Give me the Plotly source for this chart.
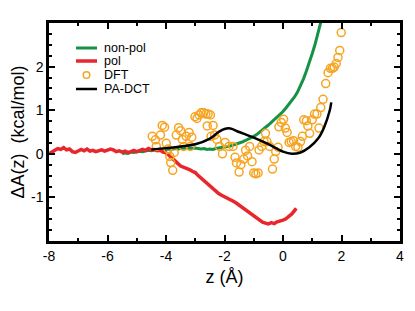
import plotly.graph_objects as go

# ---- data ----
pol_z = [round(-8.0 + 0.1 * i, 2) for i in range(85)] + [0.45]
pol_A = [0.00, 0.03, 0.08, 0.12, 0.10, 0.14, 0.09, 0.11, 0.05, 0.03,
         0.06, 0.10, 0.07, 0.11, 0.06, 0.08, 0.05, 0.07, 0.09, 0.06,
         0.08, 0.11, 0.09, 0.05, 0.07, 0.04, 0.06, 0.03, 0.05, 0.08,
         0.05, 0.07, 0.10, 0.08, 0.12, 0.09, 0.10, 0.07, 0.08, 0.04,
         0.02, -0.03, -0.10, -0.17, -0.22, -0.28, -0.30, -0.34, -0.36, -0.40,
         -0.43, -0.50, -0.56, -0.62, -0.69, -0.75, -0.81, -0.86, -0.91, -0.95,
         -0.98, -1.03, -1.06, -1.09, -1.13, -1.18, -1.23, -1.28, -1.33, -1.38,
         -1.43, -1.49, -1.54, -1.57, -1.59, -1.61, -1.58, -1.60, -1.56, -1.55,
         -1.52, -1.49, -1.44, -1.38, -1.30, -1.25]

nonpol_z = [round(-5.5 + 0.1 * i, 2) for i in range(70)]
nonpol_A = [0.00, 0.02, 0.01, 0.04, 0.03, 0.05, 0.06, 0.05, 0.07, 0.08,
            0.07, 0.09, 0.08, 0.10, 0.09, 0.10, 0.11, 0.10, 0.12, 0.11,
            0.12, 0.13, 0.12, 0.13, 0.12, 0.13, 0.12, 0.11, 0.12, 0.10,
            0.11, 0.10, 0.12, 0.13, 0.14, 0.15, 0.17, 0.18, 0.20, 0.22,
            0.24, 0.27, 0.30, 0.33, 0.36, 0.40, 0.44, 0.49, 0.54, 0.60,
            0.66, 0.72, 0.78, 0.84, 0.90, 0.97, 1.05, 1.13, 1.21, 1.31,
            1.42, 1.56, 1.72, 1.90, 2.08, 2.30, 2.52, 2.80, 3.05, 3.30]

dct_z = [-4.5, -4.0, -3.5, -3.0, -2.5, -2.2, -2.0, -1.8, -1.5, -1.0,
         -0.5, 0.0, 0.3, 0.6, 0.9, 1.2, 1.4, 1.6, 1.65]
dct_A = [0.10, 0.13, 0.17, 0.22, 0.35, 0.50, 0.57, 0.58, 0.50, 0.37,
         0.22, 0.05, 0.00, 0.03, 0.15, 0.35, 0.60, 1.00, 1.18]

dft_z = [-4.47, -4.36, -4.33, -4.19, -4.13, -4.05, -3.99, -3.93, -3.87, -3.84,
         -3.77, -3.72, -3.65, -3.57, -3.50, -3.44, -3.40, -3.31, -3.21, -3.17,
         -3.12, -3.01, -2.94, -2.87, -2.80, -2.71, -2.64, -2.56, -2.48, -2.59,
         -2.39, -2.46, -2.34, -2.26, -2.17, -2.07, -1.98, -1.85, -1.71, -1.64,
         -1.59, -1.50, -1.44, -1.34, -1.28, -1.21, -1.14, -1.06, -1.00, -0.93,
         -0.85, -0.82, -0.73, -0.65, -0.60, -0.55, -0.46, -0.36, -0.30, -0.25,
         -0.17, -0.14, -0.06, 0.02, 0.08, 0.14, 0.21, 0.28, 0.36, 0.43,
         0.51, 0.60, 0.66, 0.71, 0.80, 0.85, 0.91, 1.00, 1.08, 1.16,
         1.23, 1.29, 1.37, 1.46, 1.54, 1.62, 1.69, 1.75, 1.82, 1.88,
         1.94, 1.99]
dft_A = [0.40, 0.32, 0.17, 0.43, 0.65, 0.61, 0.24, 0.11, -0.06, -0.20,
         -0.38, 0.03, 0.43, 0.60, 0.53, 0.33, 0.17, 0.40, 0.49, 0.17,
         0.38, 0.85, 0.81, 0.89, 0.94, 0.94, 0.91, 0.91, 0.89, 0.64,
         0.65, 0.40, 0.43, 0.33, 0.17, 0.00, 0.26, 0.17, 0.17, -0.08,
         -0.21, -0.42, -0.25, -0.12, 0.08, -0.05, 0.17, -0.18, -0.44, -0.46,
         -0.44, 0.09, 0.17, 0.28, 0.47, 0.28, 0.17, -0.35, -0.12, 0.05,
         0.15, 0.62, 0.72, 0.79, 0.59, 0.49, 0.26, 0.28, 0.30, 0.17,
         0.15, 0.28, 0.40, 0.78, 0.76, 0.64, 0.47, 0.78, 0.91, 0.91,
         0.59, 1.06, 1.25, 1.61, 1.86, 1.96, 1.96, 1.99, 2.07, 2.21,
         2.37, 2.78]

x_ticks = [-8, -6, -4, -2, 0, 2, 4]
y_ticks = [-1, 0, 1, 2]
legend_names = ["non-pol", "pol", "DFT", "PA-DCT"]

FONT = "Liberation Sans, Arial, Helvetica, sans-serif"
GREEN, RED, ORANGE, BLACK = "#159245", "#E8262B", "#F6A522", "black"

fig = go.Figure()
fig.add_trace(go.Scatter(x=nonpol_z, y=nonpol_A, mode="lines", name=legend_names[0],
                         line=dict(color=GREEN, width=3)))
fig.add_trace(go.Scatter(x=pol_z, y=pol_A, mode="lines", name=legend_names[1],
                         line=dict(color=RED, width=3.5)))
fig.add_trace(go.Scatter(x=dft_z, y=dft_A, mode="markers", name=legend_names[2],
                         marker=dict(symbol="circle-open", size=8,
                                     color=ORANGE, line=dict(width=1.5, color=ORANGE))))
fig.add_trace(go.Scatter(x=dct_z, y=dct_A, mode="lines", name=legend_names[3],
                         line=dict(color=BLACK, width=2.5, shape="spline")))

axis_common = dict(showline=True, linecolor="black", linewidth=2.5, mirror="allticks",
                   ticks="inside", ticklen=6, tickwidth=2, tickcolor="black",
                   showgrid=False, zeroline=False, automargin=False,
                   tickfont=dict(family=FONT, size=14, color="black"))

fig.update_xaxes(range=[-8, 4], tickvals=x_ticks, ticktext=[str(v) for v in x_ticks],
                 minor=dict(dtick=1, ticks="inside", ticklen=3, tickwidth=2, tickcolor="black"),
                 title=dict(text="z (Å)", font=dict(family=FONT, size=18, color="black"), standoff=8),
                 **axis_common)
fig.update_yaxes(range=[-2, 3], tickvals=y_ticks, ticktext=[str(v) for v in y_ticks],
                 minor=dict(dtick=0.25, tick0=0, ticks="inside", ticklen=3, tickwidth=2, tickcolor="black"),
                 title=dict(text="ΔA(z)  (kcal/mol)", font=dict(family=FONT, size=18, color="black"), standoff=10),
                 **axis_common)

# ---- layout in page pixels (page body has an 8px margin) ----
OFF = 8
W, H = 415 - OFF, 311 - OFF
L, R, T, B = 49, 400, 23, 241   # plot area on the page


def px2paper(px, py):
    return (px - L) / (R - L), (B - py) / (B - T)


legend_rows = [48, 61, 75, 89]
shapes = []
annotations = []
styles = [("line", GREEN, 3), ("line", RED, 3.5), ("circle", ORANGE, 1.5), ("line", BLACK, 2.5)]
for name, row, (kind, col, w) in zip(legend_names, legend_rows, styles):
    if kind == "line":
        x0, y0 = px2paper(76, row)
        x1, _ = px2paper(97, row)
        shapes.append(dict(type="line", xref="paper", yref="paper", x0=x0, x1=x1, y0=y0, y1=y0,
                           line=dict(color=col, width=w)))
    else:
        xc, yc = px2paper(86.5, row)
        shapes.append(dict(type="circle", xref="paper", yref="paper", xsizemode="pixel",
                           ysizemode="pixel", xanchor=xc, yanchor=yc, x0=-3.3, x1=3.3,
                           y0=-3.3, y1=3.3, line=dict(color=col, width=w)))
    tx, ty = px2paper(102, row)
    annotations.append(dict(x=tx, y=ty, xref="paper", yref="paper", text=name, showarrow=False,
                            xanchor="left", yanchor="middle",
                            font=dict(family=FONT, size=12.5, color="black")))

fig.update_layout(
    width=W, height=H,
    margin=dict(l=L - OFF, r=415 - R, t=T - OFF, b=311 - B),
    paper_bgcolor="white", plot_bgcolor="white",
    showlegend=False,
    shapes=shapes, annotations=annotations,
)

fig.write_html("out.html")
